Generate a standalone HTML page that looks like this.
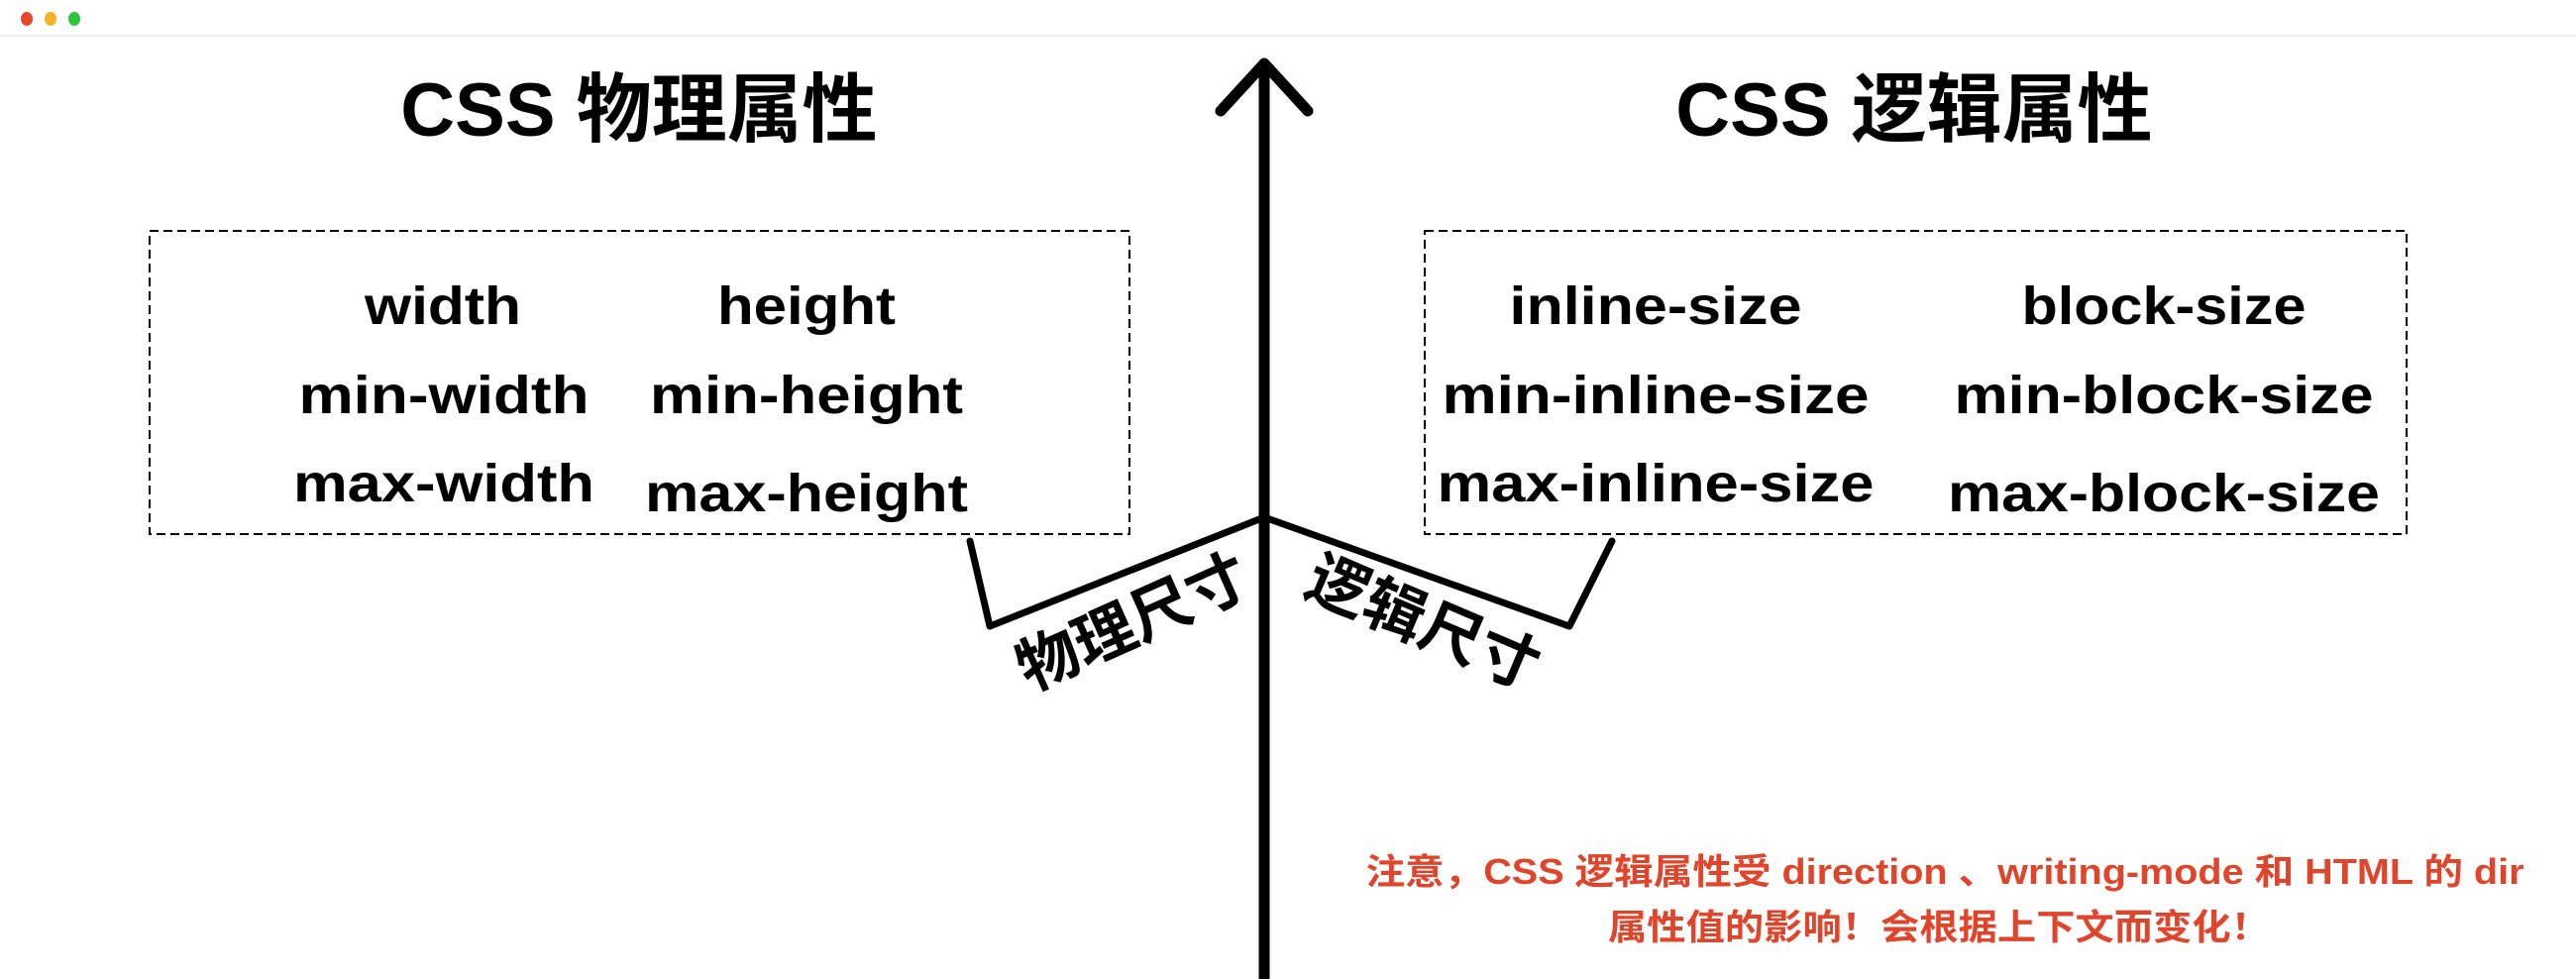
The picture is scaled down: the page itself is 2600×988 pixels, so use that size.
<!DOCTYPE html>
<html><head><meta charset="utf-8"><style>
html,body{margin:0;padding:0;background:#fff;width:2600px;height:988px;overflow:hidden}
svg{display:block}
.t{font-family:"Liberation Sans","Noto Sans CJK SC",sans-serif;font-weight:bold;fill:#000}
</style></head><body>
<svg width="2600" height="988" viewBox="0 0 2600 988" xmlns="http://www.w3.org/2000/svg">
<rect x="0" y="0" width="2600" height="36" fill="#fff"/>
<line x1="0" y1="36" x2="2600" y2="36" stroke="#eee" stroke-width="2"/>
<ellipse cx="27" cy="19" rx="6" ry="7" fill="#e5462c"/>
<ellipse cx="51" cy="19" rx="6" ry="7" fill="#f6b325"/>
<ellipse cx="75" cy="19" rx="6" ry="7" fill="#2ec53d"/>

<text class="t" x="645" y="137" font-size="76" text-anchor="middle">CSS 物理属性</text>
<text class="t" x="1932" y="137" font-size="76" text-anchor="middle">CSS 逻辑属性</text>

<rect x="151" y="233" width="989" height="306" fill="none" stroke="#000" stroke-width="2" stroke-dasharray="9,5"/>
<rect x="1438" y="233" width="991" height="306" fill="none" stroke="#000" stroke-width="2" stroke-dasharray="9,5"/>

<g class="t" font-size="54" text-anchor="middle">
<text x="447" y="327" textLength="158" lengthAdjust="spacingAndGlyphs">width</text>
<text x="814" y="327" textLength="180" lengthAdjust="spacingAndGlyphs">height</text>
<text x="448" y="417" textLength="293" lengthAdjust="spacingAndGlyphs">min-width</text>
<text x="814" y="417" textLength="316" lengthAdjust="spacingAndGlyphs">min-height</text>
<text x="448" y="506" textLength="304" lengthAdjust="spacingAndGlyphs">max-width</text>
<text x="814" y="516" textLength="326" lengthAdjust="spacingAndGlyphs">max-height</text>
<text x="1671" y="327" textLength="295" lengthAdjust="spacingAndGlyphs">inline-size</text>
<text x="2184" y="327" textLength="287" lengthAdjust="spacingAndGlyphs">block-size</text>
<text x="1671" y="417" textLength="431" lengthAdjust="spacingAndGlyphs">min-inline-size</text>
<text x="2184" y="417" textLength="423" lengthAdjust="spacingAndGlyphs">min-block-size</text>
<text x="1671" y="506" textLength="441" lengthAdjust="spacingAndGlyphs">max-inline-size</text>
<text x="2184" y="516" textLength="436" lengthAdjust="spacingAndGlyphs">max-block-size</text>
</g>

<line x1="1276" y1="66" x2="1276" y2="988" stroke="#000" stroke-width="11"/>
<polyline points="1232,112 1276,64 1320,112" fill="none" stroke="#000" stroke-width="11" stroke-linecap="round" stroke-linejoin="round"/>

<polyline points="979,546 999,632 1276,522 1584,632 1627,546" fill="none" stroke="#000" stroke-width="7" stroke-linecap="round" stroke-linejoin="round"/>

<text class="t" font-size="62" text-anchor="middle" transform="translate(1152,648) rotate(-24)">物理尺寸</text>
<text class="t" font-size="62" text-anchor="middle" transform="translate(1428,648) rotate(23)">逻辑尺寸</text>

<g font-family="'Liberation Sans','Noto Sans CJK SC',sans-serif" font-weight="bold" font-size="36" fill="#e0452b" text-anchor="middle">
<text x="1963" y="892" textLength="1169" lengthAdjust="spacingAndGlyphs">注意，CSS 逻辑属性受 direction 、writing-mode 和 HTML 的 dir</text>
<text x="1957" y="948" textLength="668" lengthAdjust="spacingAndGlyphs">属性值的影响！会根据上下文而变化！</text>
</g>
</svg>
</body></html>
